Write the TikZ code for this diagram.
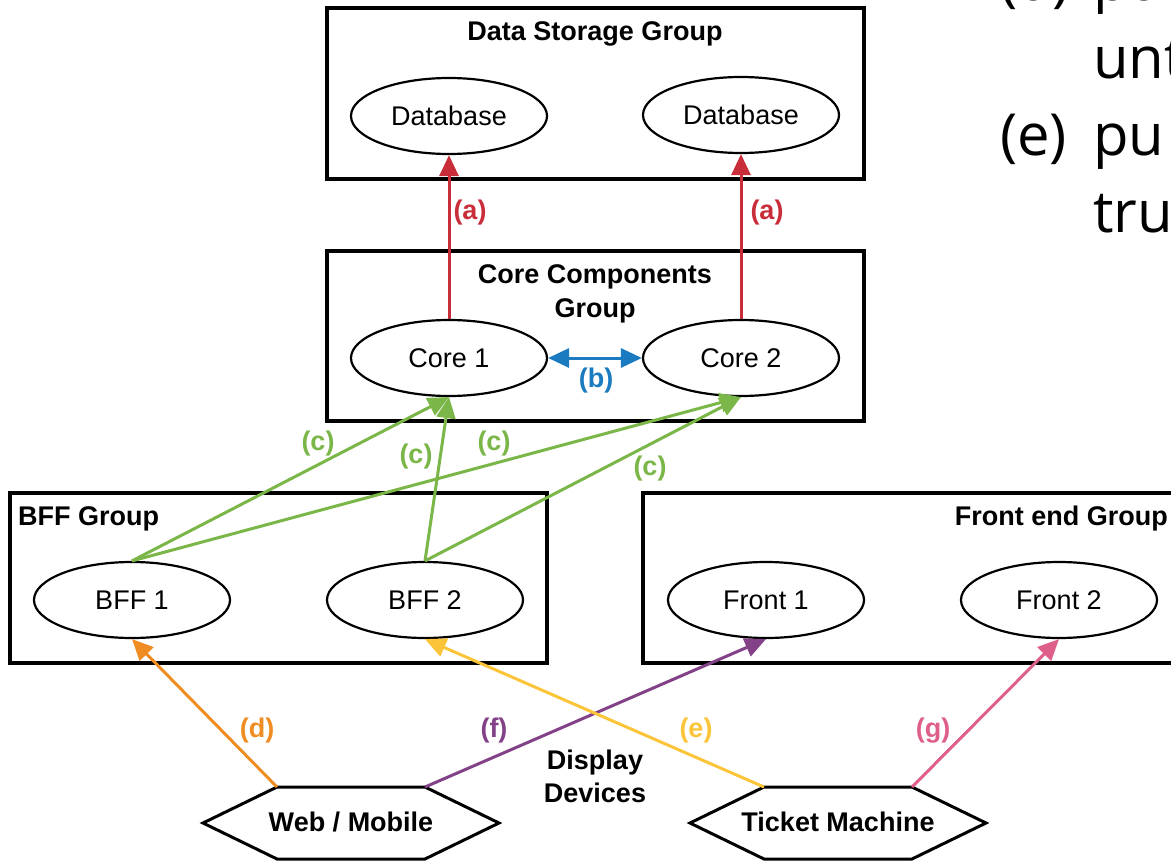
\documentclass[tikz,border=0pt]{standalone}
\usepackage{fontspec}
\setmainfont{Liberation Sans}
\newfontfamily\notefont{Open Sans}
\usetikzlibrary{arrows.meta,shapes.geometric}

\definecolor{cred}{HTML}{C92D39}
\definecolor{cblue}{HTML}{1A7BC1}
\definecolor{cgreen}{HTML}{7AB648}
\definecolor{corange}{HTML}{EF8D22}
\definecolor{cyellow}{HTML}{FCC438}
\definecolor{cpurple}{HTML}{834187}
\definecolor{cpink}{HTML}{DE5F8A}

\tikzset{
  groupbox/.style={draw, line width=3.5pt, minimum width=537pt, minimum height=171pt, inner sep=0pt},
  comp/.style={draw, ellipse, line width=2.2pt, minimum width=196pt, minimum height=76pt, inner sep=0pt,
    font=\fontsize{27}{32}\selectfont},
  grouptitle/.style={font=\fontsize{27}{33}\selectfont\bfseries, align=center, inner sep=0pt},
  lbl/.style={font=\fontsize{27}{32}\selectfont\bfseries, inner sep=0pt},
  hexline/.style={draw, line width=3pt, line join=miter},
  flow/.style={line width=3pt, -{Triangle[length=21pt,width=19pt]}},
  note/.style={font=\notefont\fontsize{58}{70}\selectfont, anchor=base west, inner sep=0pt}
}

\begin{document}
\begin{tikzpicture}[x=1pt,y=-1pt]
\useasboundingbox (0,0) rectangle (1171,862);
\clip (0,0) rectangle (1171,862);

% group boxes
\node[groupbox] (storage) at (595.5,93.5) {};
\node[groupbox, minimum height=170pt] (coregrp) at (595.5,336) {};
\node[groupbox, minimum height=170pt] (bffgrp) at (278.5,578) {};
\node[groupbox, minimum height=170pt] (frontgrp) at (911.5,578) {};

% group titles
\node[grouptitle, anchor=base] (tstorage) at (595,40) {Data Storage Group};
\node[grouptitle, anchor=base] (tcore1) at (595,283) {Core Components};
\node[grouptitle, anchor=base] (tcore2) at (595,317) {Group};
\node[grouptitle, anchor=base west] (tbff) at (18,525) {BFF Group};
\node[grouptitle, anchor=base east] (tfront) at (1168,525) {Front end Group};
\node[grouptitle, anchor=base] (tdisp1) at (595,769) {Display};
\node[grouptitle, anchor=base] (tdisp2) at (595,802) {Devices};

% components
\node[comp] (db1) at (449,116) {Database};
\node[comp] (db2) at (741,115) {Database};
\node[comp] (core1) at (449,358) {Core 1};
\node[comp] (core2) at (741,358) {Core 2};
\node[comp] (bff1) at (132,600) {BFF 1};
\node[comp] (bff2) at (425,600) {BFF 2};
\node[comp] (front1) at (766,600) {Front 1};
\node[comp] (front2) at (1059,600) {Front 2};

% display devices (hexagons)
\node[lbl] (web) at (351,822) {Web / Mobile};
\node[lbl] (ticket) at (838,822) {Ticket Machine};
\draw[hexline] (web.center) ++(-148,1) -- ++(74,-36) coordinate (webTL) -- ++(148,0) coordinate (webTR)
  -- ++(74,36) -- ++(-74,36) -- ++(-148,0) -- cycle;
\draw[hexline] (ticket.center) ++(-148,1) -- ++(74,-36) coordinate (tickTL) -- ++(148,0) coordinate (tickTR)
  -- ++(74,36) -- ++(-74,36) -- ++(-148,0) -- cycle;

% (a) core -> database
\draw[flow, cred] (core1.north) -- (db1.south);
\draw[flow, cred] (core2.north) -- (db2.south);
\node[lbl, text=cred] (la1) at (470,213) {(a)};
\node[lbl, text=cred] (la2) at (767,213) {(a)};

% (b) core <-> core
\draw[line width=3pt, cblue, {Triangle[length=21pt,width=19pt]}-{Triangle[length=21pt,width=19pt]}]
  (core1.east) -- (core2.west);
\node[lbl, text=cblue] (lb) at (596,381) {(b)};

% (c) bff -> core
\draw[flow, cgreen] (bff1.north) -- (core1.south);
\draw[flow, cgreen] (bff1.north) -- (core2.south);
\draw[flow, cgreen] (bff2.north) -- (core1.south);
\draw[flow, cgreen] (bff2.north) -- (core2.south);
\node[lbl, text=cgreen] (lc1) at (318,444) {(c)};
\node[lbl, text=cgreen] (lc2) at (416,457) {(c)};
\node[lbl, text=cgreen] (lc3) at (494,444) {(c)};
\node[lbl, text=cgreen] (lc4) at (650,469) {(c)};

% (d)-(g) devices -> front ends
\draw[flow, corange] (webTL) -- (bff1.south);
\draw[flow, cpurple] (webTR) -- (front1.south);
\draw[flow, cyellow] (tickTL) -- (bff2.south);
\draw[flow, cpink] (tickTR) -- (front2.south);
\node[lbl, text=corange] (ld) at (257,731) {(d)};
\node[lbl, text=cpurple] (lf) at (494,731) {(f)};
\node[lbl, text=cyellow] (le) at (696,731) {(e)};
\node[lbl, text=cpink] (lg) at (933,731) {(g)};

% side list
\node[note] (n1) at (1000,1) {(d)};
\node[note] (n2) at (1093,1) {pu};
\node[note] (n3) at (1093,78) {unt};
\node[note] (n4) at (1000,155) {(e)};
\node[note] (n5) at (1093,155) {pu};
\node[note] (n6) at (1093,232) {tru};
\end{tikzpicture}
\end{document}
